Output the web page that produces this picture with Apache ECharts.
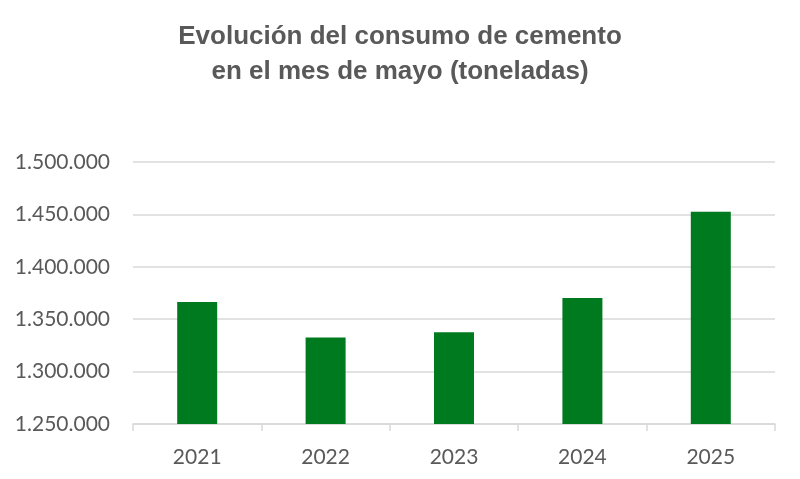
<!DOCTYPE html>
<html>
<head>
<meta charset="utf-8">
<script src="https://cdn.jsdelivr.net/npm/echarts@6/dist/echarts.min.js"></script>
<style>html,body{margin:0;padding:0;background:#fff}#c{width:800px;height:479px}</style>
</head>
<body>
<div id="c"></div>
<script>
const categories = ['2021', '2022', '2023', '2024', '2025'];
const consumo = [1366400, 1332500, 1337600, 1370200, 1452500];
const yTicks = [1250000, 1300000, 1350000, 1400000, 1450000, 1500000];

function fmt(v) {
  return String(Math.round(v)).replace(/\B(?=(\d{3})+(?!\d))/g, '.');
}

const chart = echarts.init(document.getElementById('c'));
chart.setOption({
  animation: false,
  title: {
    text: 'Evolución del consumo de cemento\nen el mes de mayo (toneladas)',
    left: 'center',
    top: 14,
    textStyle: {
      fontFamily: 'Liberation Sans, Arial, sans-serif',
      fontWeight: 'bold',
      fontSize: 26,
      lineHeight: 35,
      color: '#595959'
    }
  },
  grid: { left: 133, right: 25, top: 162, bottom: 55 },
  xAxis: {
    type: 'category',
    data: categories,
    axisLine: { lineStyle: { color: '#d9d9d9', width: 1.5 } },
    axisTick: { show: true, length: 7, lineStyle: { color: '#d9d9d9', width: 1.5 } },
    axisLabel: { color: '#595959', fontFamily: 'Lato, sans-serif', fontSize: 21, margin: 23 }
  },
  yAxis: {
    type: 'value',
    min: yTicks[0],
    max: yTicks[yTicks.length - 1],
    interval: yTicks[1] - yTicks[0],
    axisLine: { show: false },
    axisTick: { show: false },
    splitLine: { lineStyle: { color: '#d9d9d9', width: 1.5 } },
    axisLabel: { color: '#595959', fontFamily: 'Lato, sans-serif', fontSize: 21, margin: 23, formatter: fmt }
  },
  series: [{
    type: 'bar',
    data: consumo,
    barWidth: 40,
    itemStyle: { color: '#007a1f' }
  }]
});
</script>
</body>
</html>
